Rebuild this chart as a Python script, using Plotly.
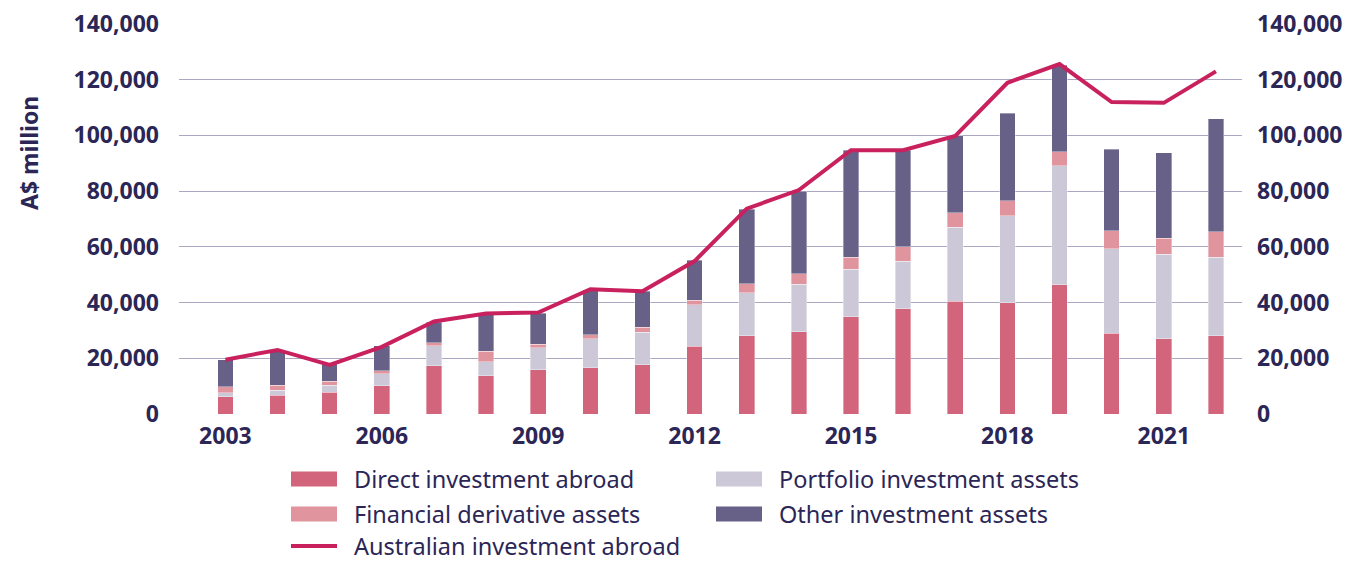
import plotly.graph_objects as go

years = list(range(2003, 2023))
direct = [6.2, 6.7, 7.8, 10.1, 17.3, 13.7, 15.9, 16.6, 17.7, 24.3,
          28.1, 29.5, 34.9, 37.7, 40.5, 39.9, 46.4, 28.9, 27.0, 28.1]
portfolio = [1.4, 1.9, 2.6, 4.3, 7.2, 5.0, 7.8, 10.5, 11.7, 15.0,
             15.5, 17.1, 17.1, 17.1, 26.5, 31.3, 42.8, 30.4, 30.3, 28.2]
derivative = [2.2, 1.8, 1.4, 1.1, 1.1, 3.9, 1.4, 1.3, 1.7, 1.6,
              3.2, 3.7, 4.3, 5.3, 5.3, 5.4, 4.9, 6.4, 5.8, 9.2]
other = [9.7, 11.9, 6.1, 9.0, 7.3, 13.1, 11.1, 16.2, 13.0, 14.3,
         26.7, 29.6, 38.3, 34.6, 27.5, 31.3, 31.1, 29.3, 30.7, 40.5]
total_abroad = [19.5, 23.0, 17.6, 24.1, 33.2, 36.1, 36.4, 44.8, 44.1, 54.9,
                73.7, 80.4, 94.7, 94.7, 99.8, 118.9, 125.6, 112.0, 111.7, 123.0]

# values read in A$ billion -> convert to A$ million
to_m = lambda v: [x * 1000 for x in v]

navy = "#2B2656"
line_col = "#C8215E"
fig = go.Figure()

series = [
    ("Direct investment abroad", direct, "#D2647B"),
    ("Portfolio investment assets", portfolio, "#CCC8D7"),
    ("Financial derivative assets", derivative, "#E0949D"),
    ("Other investment assets", other, "#676087"),
]
for name, vals, col in series:
    fig.add_trace(go.Bar(x=years, y=to_m(vals), name=name, width=0.3,
                         marker=dict(color=col, line=dict(width=0.6, color="rgba(255,255,255,0.6)"))))

fig.add_trace(go.Scatter(x=years, y=to_m(total_abroad), name="Australian investment abroad",
                         mode="lines", line=dict(color=line_col, width=4), yaxis="y2"))

## hand-made legend (big swatches like the original)
# plot area is 1063 x 390 px, so convert pixel offsets to paper units
pw, ph = 1063.0, 390.0
rows = [-65 / ph, -100 / ph, -132 / ph]
cols = [112 / pw, 537 / pw]
sw_w, sw_h, txt_gap = 46 / pw, 15 / ph, 16 / pw
legend_items = [
    (series[0][0], series[0][2], 0, 0, "box"),
    (series[1][0], series[1][2], 1, 0, "box"),
    (series[2][0], series[2][2], 0, 1, "box"),
    (series[3][0], series[3][2], 1, 1, "box"),
    ("Australian investment abroad", line_col, 0, 2, "line"),
]
for label, col, ci, ri, kind in legend_items:
    x0, yc = cols[ci], rows[ri]
    if kind == "box":
        fig.add_shape(type="rect", xref="paper", yref="paper",
                      x0=x0, x1=x0 + sw_w, y0=yc - sw_h / 2, y1=yc + sw_h / 2,
                      fillcolor=col, line=dict(width=0))
    else:
        fig.add_shape(type="line", xref="paper", yref="paper",
                      x0=x0, x1=x0 + sw_w, y0=yc, y1=yc,
                      line=dict(color=col, width=4))
    fig.add_annotation(text=label, xref="paper", yref="paper", x=x0 + sw_w + txt_gap, y=yc,
                       xanchor="left", yanchor="middle", showarrow=False, borderpad=0,
                       font=dict(family="Noto Sans", size=23.5, color=navy))

## y axis title
fig.add_annotation(text="<b>A$ million</b>", xref="paper", yref="paper",
                   x=-150 / pw, y=261 / ph, textangle=-90, showarrow=False,
                   xanchor="center", yanchor="middle",
                   font=dict(family="Noto Sans", size=23, color=navy))

# the page body adds an 8px margin, so the figure is 8px smaller and margins shifted
tick_font = dict(family="Noto Sans", size=23, color=navy, weight="bold")
fig.update_layout(
    width=1357, height=553,
    margin=dict(l=171, r=123, t=16, b=147),
    barmode="stack",
    showlegend=False,
    plot_bgcolor="white", paper_bgcolor="white",
    font=dict(family="Noto Sans", color=navy),
    xaxis=dict(range=[2002.11, 2022.5], tickvals=list(range(2003, 2023, 3)),
               tickfont=tick_font, showgrid=False, zeroline=False,
               ticklabelstandoff=6, automargin=False),
    yaxis=dict(range=[0, 140000], dtick=20000, tickformat=",", tickfont=tick_font,
               gridcolor="#ABA6C2", gridwidth=1, zeroline=False, ticklabelstandoff=19,
               automargin=False, ticklabeloverflow="allow"),
    yaxis2=dict(range=[0, 140000], dtick=20000, tickformat=",", tickfont=tick_font,
                overlaying="y", side="right", showgrid=False, zeroline=False,
                ticklabelstandoff=14, automargin=False, ticklabeloverflow="allow"),
)

fig.write_html("out.html")
